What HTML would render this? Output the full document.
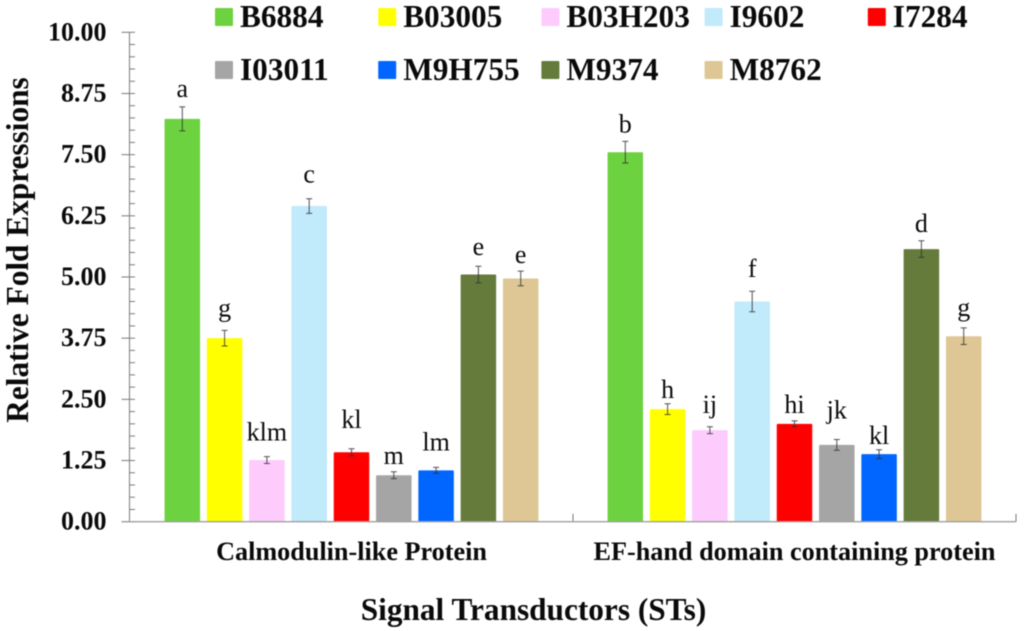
<!DOCTYPE html>
<html lang="en">
<head>
<meta charset="utf-8">
<title>Relative Fold Expressions of Signal Transductors</title>
<style>
html,body{margin:0;padding:0;background:#fff;width:1024px;height:631px;overflow:hidden}
svg{display:block;filter:blur(0.4px)}
text{font-family:"Liberation Serif",serif;fill:#0a0a0a}
.b{font-weight:bold}
</style>
</head>
<body>
<svg id="chart" xmlns="http://www.w3.org/2000/svg" width="1024" height="631" viewBox="0 0 1024 631">
<text class="b" transform="translate(28,250) rotate(-90)" text-anchor="middle" font-size="31.3">Relative Fold Expressions</text>
<text class="b" x="533.5" y="620" text-anchor="middle" font-size="31.3">Signal Transductors (STs)</text>
</svg>
<script>
const categories = ["Calmodulin-like Protein", "EF-hand domain containing protein"];
const seriesNames = ["B6884", "B03005", "B03H203", "I9602", "I7284", "I03011", "M9H755", "M9374", "M8762"];
const calmodulinValues = [8.23, 3.75, 1.26, 6.45, 1.42, 0.95, 1.05, 5.05, 4.97];
const efHandValues = [7.55, 2.30, 1.87, 4.50, 2.00, 1.57, 1.38, 5.57, 3.79];
const calmodulinErrors = [0.245, 0.16, 0.07, 0.15, 0.07, 0.07, 0.06, 0.17, 0.15];
const efHandErrors = [0.22, 0.11, 0.07, 0.21, 0.06, 0.11, 0.09, 0.17, 0.17];
const calmodulinLetters = ["a", "g", "klm", "c", "kl", "m", "lm", "e", "e"];
const efHandLetters = ["b", "h", "ij", "f", "hi", "jk", "kl", "d", "g"];
const yTickLabels = ["0.00", "1.25", "2.50", "3.75", "5.00", "6.25", "7.50", "8.75", "10.00"];

const seriesColors = ["#6dd23f", "#ffff00", "#fdccfd", "#c1eafb", "#ff0000", "#a5a5a5", "#0066ff", "#647b3c", "#dec795"];
const calmodulinLabelGaps = [10, 14, 16, 16, 21, 8, 17, 11, 8];
const efHandLabelGaps = [9, 6, 14, 14, 8, 21, 6, 9, 12];

const svg = document.getElementById('chart');
const NS = 'http://www.w3.org/2000/svg';
const yMax = 10, yTop = 32.3, yBottom = 521.7;
const xLeft = 130, groupWidth = 443, pitch = 42.3, barWidth = 35.5;
const valueValues = [calmodulinValues, efHandValues];
const errorValues = [calmodulinErrors, efHandErrors];
const letterValues = [calmodulinLetters, efHandLetters];
const labelGaps = [calmodulinLabelGaps, efHandLabelGaps];

function yScale(v) { return yBottom - (v / yMax) * (yBottom - yTop); }
function groupCenter(g) { return xLeft + groupWidth * (g + 0.5); }
function barCenter(g, i) { return groupCenter(g) + (i - (seriesNames.length - 1) / 2) * pitch; }
function make(tag, attrs, parent) {
  const el = document.createElementNS(NS, tag);
  for (const k in attrs) el.setAttribute(k, attrs[k]);
  (parent || svg).appendChild(el);
  return el;
}

// y axis
const axisY = make('line', { x1: 129.5, x2: 129.5, y1: yTop, y2: yBottom, stroke: '#858585', 'stroke-width': 1.1 });



const minorCount = 40;
for (let k = 0; k <= minorCount; k++) {
  const v = yMax * k / minorCount;
  const major = k % 5 === 0;
  const tick = make('line', { x1: major ? 121.5 : 129.5, x2: 135, y1: yScale(v), y2: yScale(v), stroke: '#7a7a7a', 'stroke-width': 1 });
  
  
}
yTickLabels.forEach(function (label, k) {
  const v = yMax * k / (yTickLabels.length - 1);
  const t = make('text', { x: 106.5, y: yScale(v) + 8, 'text-anchor': 'end', 'font-size': 26, class: 'b' });
  t.textContent = label;
  
  
});

// bars
categories.forEach(function (category, g) {
  seriesNames.forEach(function (name, i) {
    const v = valueValues[g][i], err = errorValues[g][i];
    const cx = barCenter(g, i), top = yScale(v);
    const bar = make('rect', { x: cx - barWidth / 2, y: top, width: barWidth, height: yBottom - top, rx: 1, fill: seriesColors[i] });
    
    

    const upper = yScale(v + err), lower = yScale(v - err);
    const eb = make('path', {
      d: 'M' + cx + ' ' + upper + 'V' + lower + 'M' + (cx - 3) + ' ' + upper + 'H' + (cx + 3) + 'M' + (cx - 3) + ' ' + lower + 'H' + (cx + 3),
      stroke: '#333', 'stroke-width': 1, fill: 'none', 'stroke-opacity': 0.85
    });
    
    

    const letter = make('text', { x: cx, y: upper - labelGaps[g][i], 'text-anchor': 'middle', 'font-size': 26 });
    letter.textContent = letterValues[g][i];
    
    
  });

  const cat = make('text', { x: groupCenter(g), y: 560, 'text-anchor': 'middle', 'font-size': 26.2, class: 'b' });
  cat.textContent = category;
  
  

  const sep = make('line', { x1: xLeft + groupWidth * (g + 1), x2: xLeft + groupWidth * (g + 1), y1: yBottom - 8, y2: yBottom, stroke: '#777', 'stroke-width': 1 });
  
  
});

// x axis
const axisX = make('line', { x1: 121.5, x2: xLeft + groupWidth * categories.length, y1: yBottom, y2: yBottom, stroke: '#a0a0a0', 'stroke-width': 1.4 });



// legend
const legendColumns = 5, legendLeft = 215, legendStep = 163.2, legendRowStep = 53;
seriesNames.forEach(function (name, i) {
  const col = i % legendColumns, row = Math.floor(i / legendColumns);
  const x = legendLeft + col * legendStep, y = 8 + row * legendRowStep;
  const entry = make('g', {});
  
  
  const swatch = make('rect', { x: x, y: y, width: 18, height: 18, rx: 1, fill: seriesColors[i] }, entry);
  
  
  const label = make('text', { x: x + 25, y: y + 19, 'font-size': 31.3, class: 'b' }, entry);
  label.textContent = name;
  
  
});
</script>
</body>
</html>
